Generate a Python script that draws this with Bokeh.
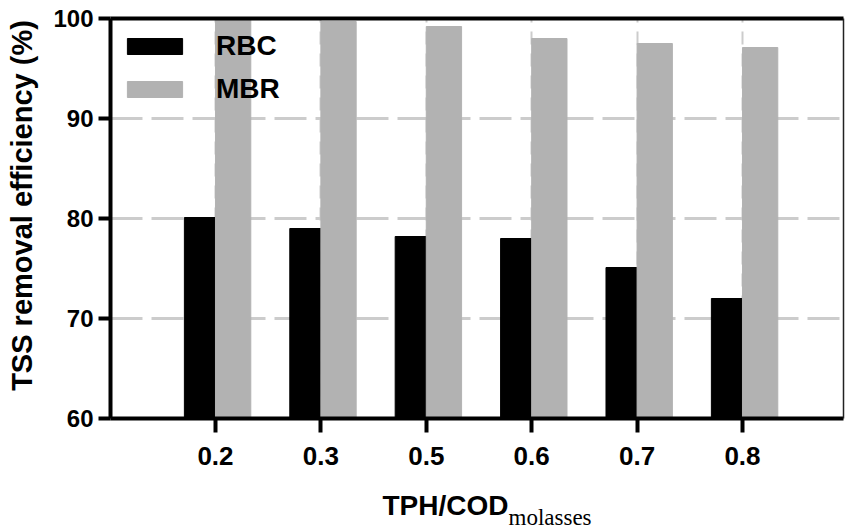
import numpy as np
from bokeh.plotting import figure
from bokeh.models import (Range1d, FixedTicker, Legend, LegendItem, Label, LinearAxis, Grid)
from bokeh.embed import file_html
from bokeh.resources import INLINE

categories = ["0.2", "0.3", "0.5", "0.6", "0.7", "0.8"]
rbc = [80.1, 79.0, 78.2, 78.0, 75.1, 72.0]
mbr = [100.0, 99.7, 99.2, 98.0, 97.5, 97.1]
y_ticks = [60, 70, 80, 90, 100]
grid_ticks = [70, 80, 90]

FONT = "Liberation Sans"
GRAY = "#b2b2b2"
W, H = 845, 530

x = np.arange(len(categories))
rbc_w = 0.295
mbr_w = 0.335

# plotting box (data limits) and the page mapping
X0, X1 = -0.996, 5.958          # left / right edge of the chart box
Y0, Y1 = 60, 100                 # bottom / top of the chart box
px_x = 105.4                     # pixels per category
px_y = 10.0                      # pixels per percent
XS = X0 - 110 / px_x
XE = XS + W / px_x
YE = Y1 + 18 / px_y
YS = YE - H / px_y

p = figure(width=W, height=H, output_backend="svg", toolbar_location=None,
           x_range=Range1d(XS, XE), y_range=Range1d(YS, YE),
           x_axis_location=None, y_axis_location=None,
           min_border=0, min_border_left=0, min_border_right=0,
           min_border_top=0, min_border_bottom=0)
p.outline_line_color = None
p.background_fill_color = "white"
p.border_fill_color = "white"

# grids (limited to the chart box)
has_cross = "cross_bounds" in Grid.properties()
yg = p.ygrid[0]
xg = p.xgrid[0]
yg.ticker = FixedTicker(ticks=grid_ticks)
yg.grid_line_color = "#cccccc"
yg.grid_line_width = 3
yg.grid_line_dash = "32 9"
xg.ticker = FixedTicker(ticks=list(x))
xg.grid_line_color = "#cccccc"
xg.grid_line_width = 2
xg.grid_line_dash = "13 9"
if has_cross:
    yg.cross_bounds = (X0, X1)
    xg.cross_bounds = (Y0, Y1)
else:
    xg.visible = False

r1 = p.vbar(x=x - rbc_w / 2, width=rbc_w, top=rbc, bottom=Y0, fill_color="black", line_color="black")
r2 = p.vbar(x=x + mbr_w / 2, width=mbr_w, top=mbr, bottom=Y0, fill_color=GRAY, line_color=GRAY)

# axes fixed on the chart box
xaxis = LinearAxis(fixed_location=Y0, bounds=(X0, X1), ticker=FixedTicker(ticks=list(x)),
                   major_label_overrides={int(i): c for i, c in zip(x, categories)})
yaxis = LinearAxis(fixed_location=X0, bounds=(Y0, Y1), ticker=FixedTicker(ticks=y_ticks))
for ax in (xaxis, yaxis):
    ax.axis_line_width = 4
    ax.axis_line_color = "black"
    ax.major_tick_line_width = 4
    ax.major_tick_line_color = "black"
    ax.major_tick_in = 0
    ax.minor_tick_line_color = None
    ax.major_label_text_font = FONT
    ax.major_label_text_font_style = "bold"
    ax.major_label_text_color = "black"
xaxis.major_label_text_font_size = "26px"
yaxis.major_label_text_font_size = "24px"
xaxis.major_tick_out = 14
xaxis.major_label_standoff = 14
yaxis.major_tick_out = 12
yaxis.major_label_standoff = 5
p.add_layout(xaxis, "below")
p.add_layout(yaxis, "left")

# box lines: thick top, thin right
top_line = LinearAxis(fixed_location=Y1, bounds=(X0, X1), ticker=FixedTicker(ticks=[]),
                      axis_line_width=4, axis_line_color="black",
                      major_tick_line_color=None, minor_tick_line_color=None,
                      major_label_text_font_size="0px")
right_line = LinearAxis(fixed_location=X1, bounds=(Y0, Y1), ticker=FixedTicker(ticks=[]),
                        axis_line_width=1.5, axis_line_color="#222222",
                        major_tick_line_color=None, minor_tick_line_color=None,
                        major_label_text_font_size="0px")
p.add_layout(top_line, "above")
p.add_layout(right_line, "right")

# legend
legend = Legend(items=[LegendItem(label="RBC", renderers=[r1]),
                       LegendItem(label="MBR", renderers=[r2])],
                location=(120, H - 28 - 87 + 10), margin=0, padding=7,
                glyph_width=69, glyph_height=20, label_height=20,
                spacing=11, label_standoff=27,
                background_fill_alpha=0, border_line_color=None,
                label_text_font=FONT, label_text_font_style="bold",
                label_text_font_size="28px", label_text_color="black")
p.add_layout(legend)

# axis titles
p.add_layout(Label(x=X0 - 89 / px_x, y=Y1 - (205 - 18) / px_y, angle=np.pi / 2,
                   text="TSS removal efficiency (%)",
                   text_font=FONT, text_font_style="bold", text_font_size="29px",
                   text_baseline="middle", text_align="center", text_color="black"))
p.add_layout(Label(x=X0 + 272 / px_x, y=Y0 - (505 - 418) / px_y, text="TPH/COD",
                   text_font=FONT, text_font_style="bold", text_font_size="28px",
                   text_baseline="middle", text_align="left", text_color="black"))
p.add_layout(Label(x=X0 + 398 / px_x, y=Y0 - (517 - 418) / px_y, text="molasses",
                   text_font="Liberation Serif", text_font_size="23px",
                   text_baseline="middle", text_align="left", text_color="black"))

open("out.html", "w").write(file_html(p, INLINE))
